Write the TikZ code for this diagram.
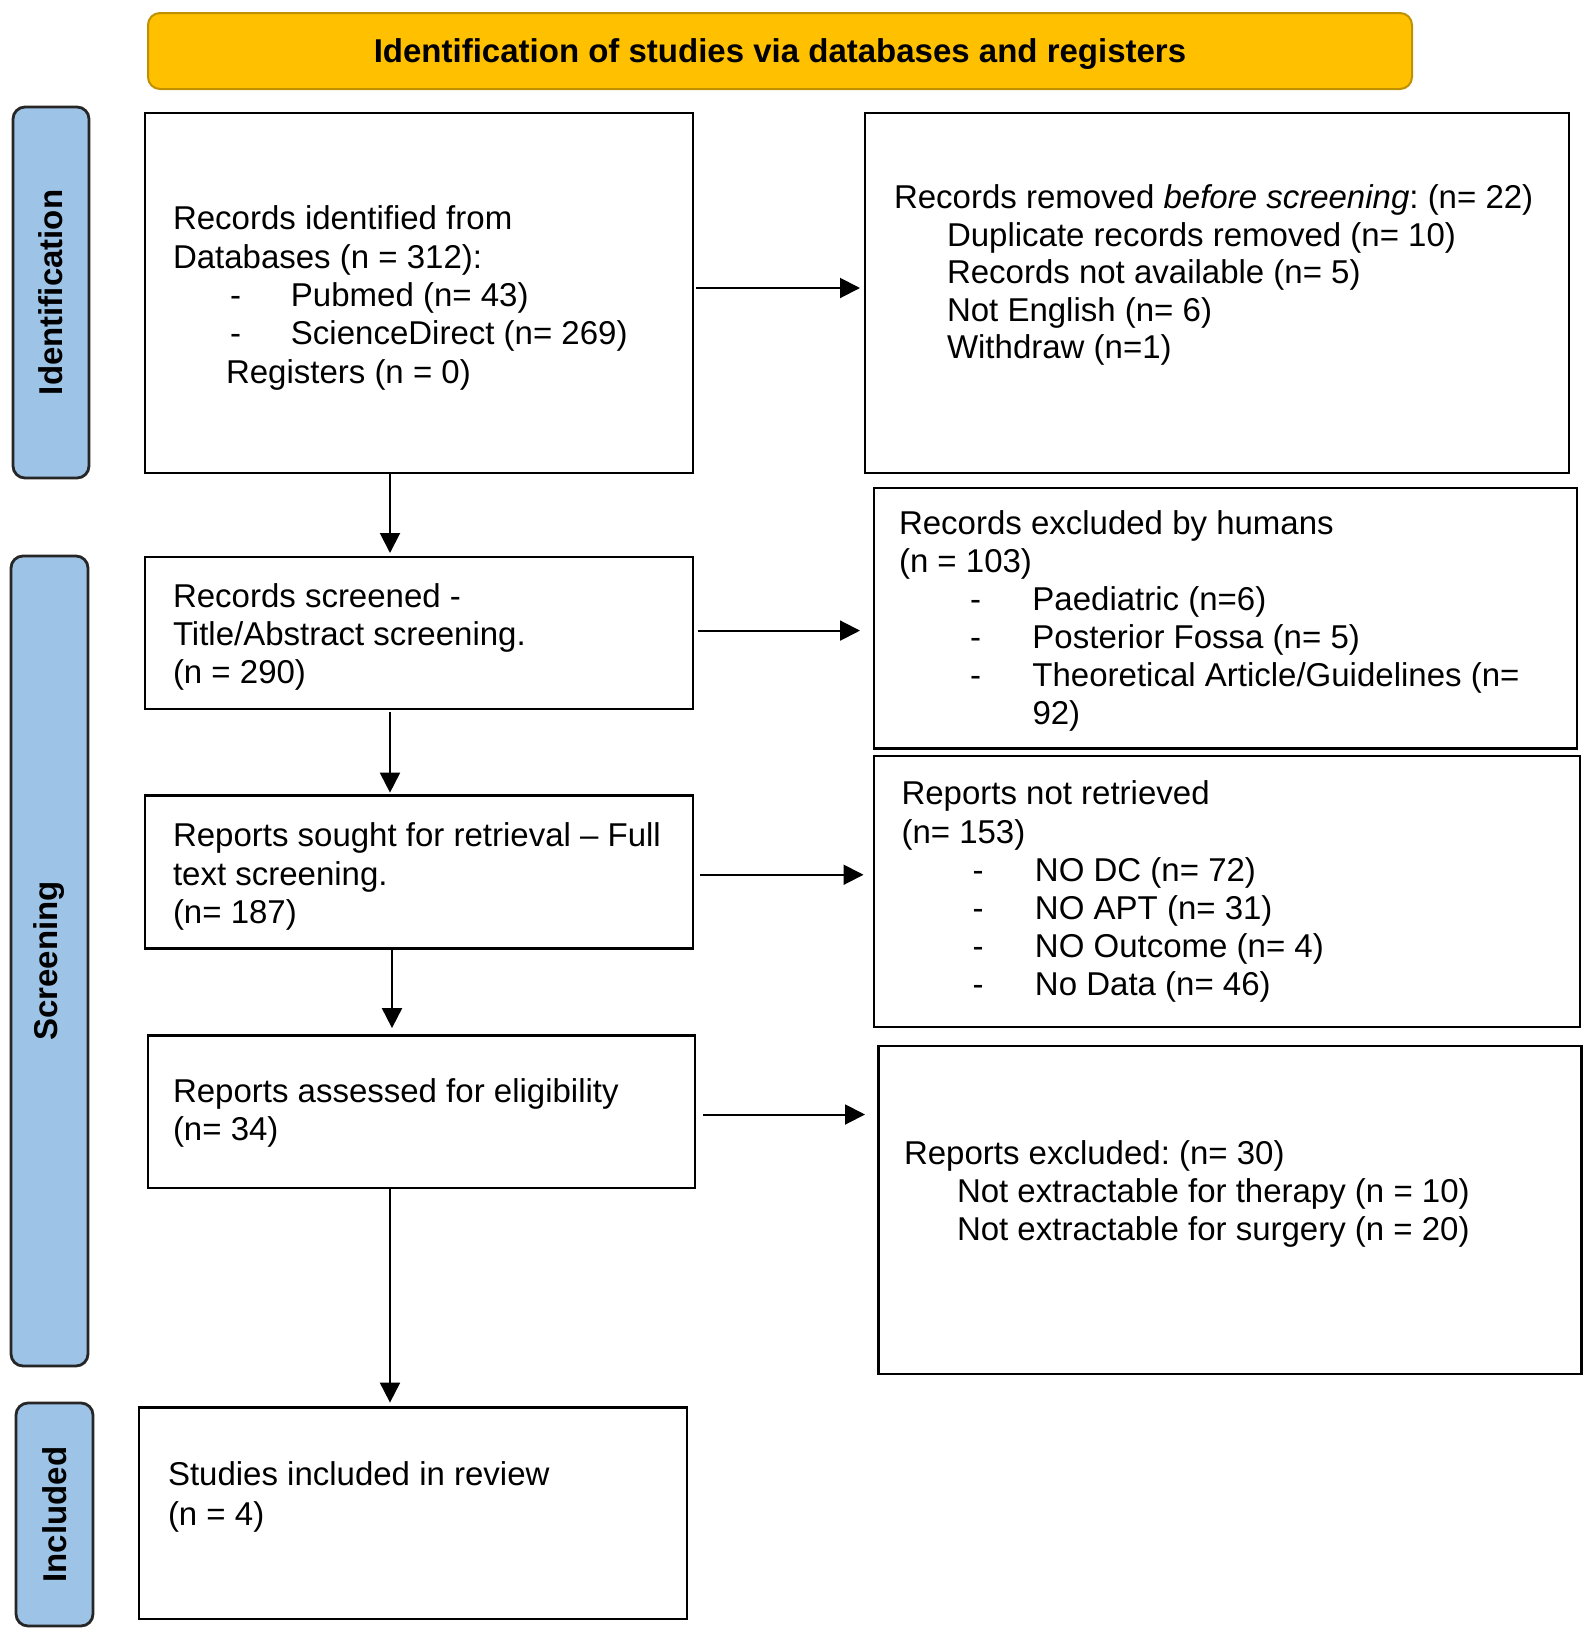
\documentclass[tikz,border=0pt]{standalone}
\usepackage{fontspec}
\setmainfont{Liberation Sans}
\usetikzlibrary{arrows.meta}
\definecolor{hdrfill}{RGB}{255,192,0}
\definecolor{hdrdraw}{RGB}{191,144,0}
\definecolor{lanefill}{RGB}{157,195,230}
\newcommand{\itm}[1]{\hspace*{71pt}\makebox[62.5pt][l]{-}#1}
\newcommand{\itmA}[1]{\hspace*{57pt}\makebox[61pt][l]{-}#1}
\frenchspacing
\begin{document}
\frenchspacing
\begin{tikzpicture}[x=1pt,y=-1pt,
  box/.style={draw=black, line width=2.5pt, fill=white, inner sep=0pt, outer sep=0pt},
  lane/.style={draw=black!85, line width=2.8pt, fill=lanefill, rounded corners=12pt, inner sep=0pt, outer sep=0pt, rotate=90, font=\fontsize{33}{38}\selectfont\bfseries},
  hdr/.style={draw=hdrdraw, line width=2pt, fill=hdrfill, rounded corners=12pt, inner sep=0pt, outer sep=0pt, text height=24pt, text depth=2pt, font=\fontsize{33}{38}\selectfont\bfseries},
  txt/.style={anchor=north west, inner sep=0pt, outer sep=0pt, align=left},
  arr/.style={line width=2pt, -{Triangle[length=20pt,width=20pt]}},
]
\useasboundingbox (0,0) rectangle (1595,1641);

% header and lanes
\node[hdr, minimum width=1264pt, minimum height=76pt] (hdr) at (780,51) {Identification of studies via databases and registers};
\node[lane, minimum width=371pt, minimum height=76pt] (laneI) at (51,292.5) {Identification};
\node[lane, minimum width=810pt, minimum height=77pt] (laneS) at (49.5,961) {Screening};
\node[lane, minimum width=223pt, minimum height=77pt] (laneN) at (54.5,1514.5) {Included};

% boxes
\node[box, minimum width=548pt, minimum height=360pt] (l1) at (419,293) {};
\node[box, minimum width=704pt, minimum height=360pt] (r1) at (1217,293) {};
\node[box, minimum width=548pt, minimum height=152pt] (l2) at (419,633) {};
\node[box, minimum width=703pt, minimum height=260.5pt] (r2) at (1225.5,618.25) {};
\node[box, minimum width=548pt, minimum height=153pt] (l3) at (419,872.15) {};
\node[box, minimum width=706pt, minimum height=271pt] (r3) at (1227,891.5) {};
\node[box, minimum width=547pt, minimum height=152.4pt] (l4) at (421.5,1111.8) {};
\node[box, minimum width=703pt, minimum height=328.2pt] (r4) at (1230.2,1209.9) {};
\node[box, minimum width=548pt, minimum height=211.4pt] (l5) at (413,1513.3) {};

% texts
\node[txt, font=\fontsize{33}{38.3}\selectfont] (tl1) at (173,206) {Records identified from\\
Databases (n = 312):\\
\itmA{Pubmed (n= 43)}\\
\itmA{ScienceDirect (n= 269)}\\
\hspace*{53pt}Registers (n = 0)};

\node[txt, font=\fontsize{33}{37.5}\selectfont] (tr1) at (894,185) {Records removed \textit{before screening}: (n= 22)\\
\hspace*{53pt}Duplicate records removed (n= 10)\\
\hspace*{53pt}Records not available (n= 5)\\
\hspace*{53pt}Not English (n= 6)\\
\hspace*{53pt}Withdraw (n=1)};

\node[txt, font=\fontsize{33}{38}\selectfont] (tl2) at (173,584) {Records screened -\\
Title/Abstract screening.\\
(n = 290)};

\node[txt, font=\fontsize{33}{37.9}\selectfont] (tr2) at (899,511) {Records excluded by humans\\
(n = 103)\\
\itm{Paediatric (n=6)}\\
\itm{Posterior Fossa (n= 5)}\\
\itm{Theoretical Article/Guidelines (n=}\\
\hspace*{133.5pt}92)};

\node[txt, font=\fontsize{33}{38.3}\selectfont] (tl3) at (173,823) {Reports sought for retrieval – Full\\
text screening.\\
(n= 187)};

\node[txt, font=\fontsize{33}{38.2}\selectfont] (tr3) at (901.5,781) {Reports not retrieved\\
(n= 153)\\
\itm{NO DC (n= 72)}\\
\itm{NO APT (n= 31)}\\
\itm{NO Outcome (n= 4)}\\
\itm{No Data (n= 46)}};

\node[txt, font=\fontsize{33}{37.5}\selectfont] (tl4) at (173,1079) {Reports assessed for eligibility\\
(n= 34)};

\node[txt, font=\fontsize{33}{37.8}\selectfont] (tr4) at (904,1140.5) {Reports excluded: (n= 30)\\
\hspace*{53pt}Not extractable for therapy (n = 10)\\
\hspace*{53pt}Not extractable for surgery (n = 20)};

\node[txt, font=\fontsize{33}{40}\selectfont] (tl5) at (168,1462) {Studies included in review\\
(n = 4)};

% horizontal arrows
\draw[arr, shorten <=3pt, shorten >=5pt] ([yshift=5pt]l1.east) -- ([yshift=5pt]r1.west);
\draw[arr, shorten <=5pt, shorten >=14pt] ([yshift=2.4pt]l2.east) -- ([yshift=2.4pt]l2.east -| r2.west);
\draw[arr, shorten <=7pt, shorten >=10.5pt] ([yshift=-2.6pt]l3.east) -- ([yshift=-2.6pt]l3.east -| r3.west);
\draw[arr, shorten <=8pt, shorten >=13.7pt] ([yshift=-2.7pt]l4.east) -- ([yshift=-2.7pt]l4.east -| r4.west);

% vertical arrows
\coordinate (vx) at (390,0);
\coordinate (vy) at (392,0);
\draw[arr, shorten >=4pt] (l1.south -| vx) -- (l2.north -| vx);
\draw[arr, shorten <=3pt, shorten >=3pt] (l2.south -| vx) -- (l3.north -| vx);
\draw[arr, shorten >=7.5pt] (l3.south -| vy) -- (l4.north -| vy);
\draw[arr, shorten >=5pt] (l4.south -| vx) -- (l5.north -| vx);
\end{tikzpicture}
\end{document}
